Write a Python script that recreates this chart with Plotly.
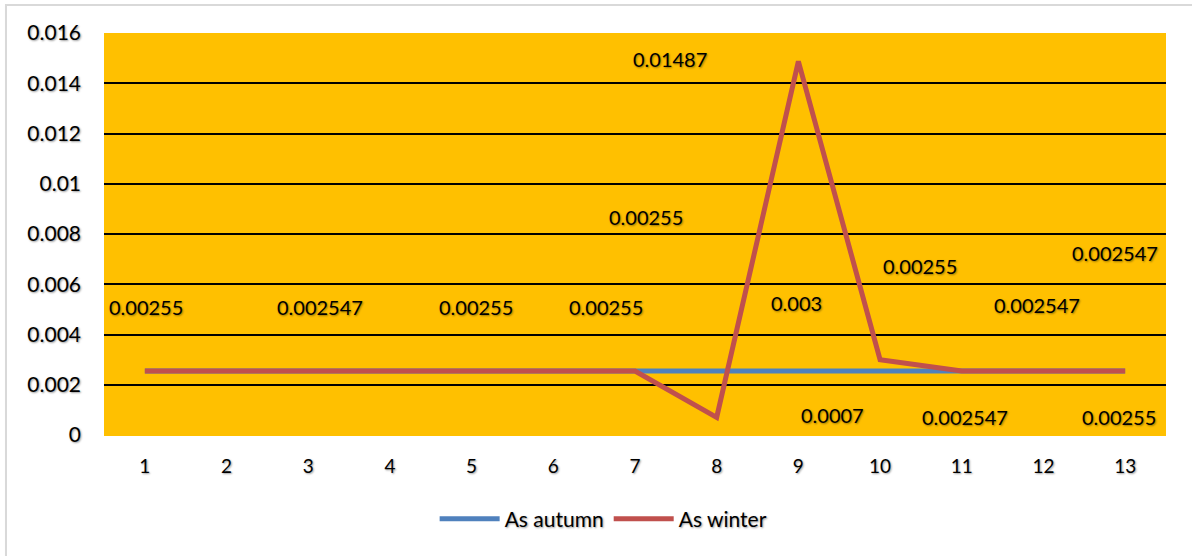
import plotly.graph_objects as go

# Data
categories = list(range(1, 14))
as_autumn = [0.00255, 0.002547, 0.00255, 0.00255, 0.00255, 0.00255, 0.002547,
             0.00255, 0.00255, 0.00255, 0.002547, 0.002547, 0.00255]
as_winter = [0.00255, 0.002547, 0.00255, 0.00255, 0.00255, 0.00255, 0.002547,
             0.0007, 0.01487, 0.003, 0.002547, 0.002547, 0.00255]
y_ticks = [0, 0.002, 0.004, 0.006, 0.008, 0.01, 0.012, 0.014, 0.016]

# Where each winter data label sits (x in category units, y in axis units)
label_pos = [(1.01, 0.00509), (3.14, 0.00509), (5.05, 0.00509), (6.64, 0.00509),
             (7.13, 0.00868), (10.49, 0.00673), (11.92, 0.00517), (9.42, 0.00080),
             (7.43, 0.01497), (8.98, 0.00525), (11.04, 0.00072), (12.88, 0.00724),
             (12.93, 0.00072)]

FONT = "Lato"
SHADOW = "1px 1px 2px rgba(0,0,0,0.4)"
BLUE = "#4F81BD"
RED = "#C0504D"
ORANGE = "#FFC000"

fig = go.Figure()
fig.add_trace(go.Scatter(x=categories, y=as_autumn, mode="lines", name="As autumn",
                         line=dict(color=BLUE, width=5)))
fig.add_trace(go.Scatter(x=categories, y=as_winter, mode="lines", name="As winter",
                         line=dict(color=RED, width=5)))

for (lx, ly), v in zip(label_pos, as_winter):
    fig.add_annotation(x=lx, y=ly, xref="x", yref="y", text=f"{v:g}",
                       showarrow=False,
                       font=dict(family=FONT, size=20, color="#000000", shadow=SHADOW))

# chart frame: only the left and top edges fall inside the page
fig.add_shape(type="rect", xref="paper", yref="paper",
              x0=-0.0923, x1=1.08, y0=-0.40, y1=1.0697,
              line=dict(color="#D9D9D9", width=2), fillcolor="rgba(0,0,0,0)", layer="below")

fig.update_layout(
    width=1192, height=556,
    margin=dict(l=104, r=26, t=33, b=121),
    paper_bgcolor="white",
    plot_bgcolor=ORANGE,
    font=dict(family=FONT, size=20, color="#000000"),
    showlegend=True,
    legend=dict(orientation="h", x=0.47, xanchor="center", y=-0.209, yanchor="middle",
                font=dict(family=FONT, size=21, color="#000000", shadow=SHADOW),
                itemwidth=60, traceorder="normal"),
    xaxis=dict(range=[0.5, 13.5], tickvals=categories, ticktext=[str(c) for c in categories],
               showgrid=False, zeroline=False, showline=False,
               tickfont=dict(family=FONT, size=19, shadow=SHADOW), ticklabelstandoff=18),
    yaxis=dict(range=[0, 0.016], tickvals=y_ticks, ticktext=[f"{t:g}" for t in y_ticks],
               showgrid=True, gridcolor="#000000", gridwidth=2,
               zeroline=True, zerolinecolor=ORANGE, zerolinewidth=1, showline=False,
               tickfont=dict(family=FONT, size=21, shadow=SHADOW), ticklabelstandoff=22),
)

fig.write_html("out.html")
